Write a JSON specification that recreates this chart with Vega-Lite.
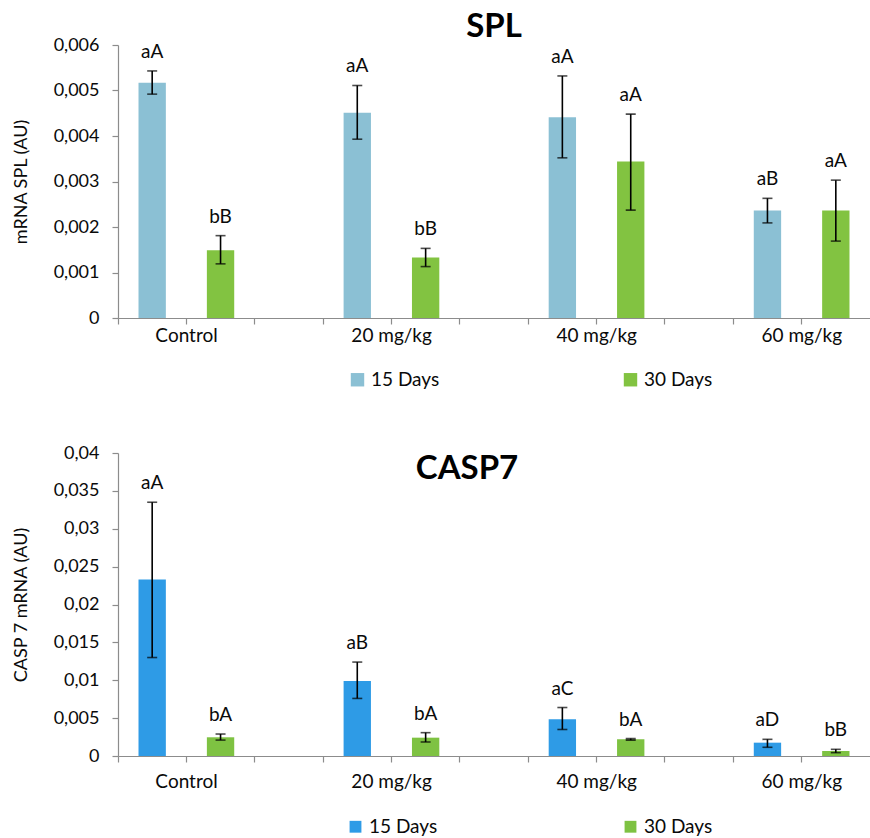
{
  "$schema": "https://vega.github.io/schema/vega-lite/v6.json",
  "background": "white",
  "padding": {"left": 12, "top": 11, "right": 0, "bottom": 0},
  "config": {
    "font": "Lato",
    "view": {"stroke": null},
    "axis": {"grid": false, "domainColor": "#8c8c8c", "tickColor": "#8c8c8c", "labelColor": "#0a0a0a", "titleColor": "#0a0a0a", "labelFont": "Lato", "titleFont": "Lato", "titleFontWeight": "normal", "titleFontSize": 18, "labelFontSize": 18, "tickSize": 6, "domainWidth": 1.2, "tickWidth": 1.2},
    "legend": {"labelFont": "Lato", "labelFontSize": 19, "labelColor": "#0a0a0a"},
    "concat": {"spacing": 54}
  },
  "datasets": {
    "spl": [
      {"dose": "Control", "days": "15 Days", "group": "Control|15", "mean": 0.00517, "lo": 0.00492, "hi": 0.00543, "label": "aA"},
      {"dose": "Control", "days": "30 Days", "group": "Control|30", "mean": 0.00149, "lo": 0.00119, "hi": 0.00181, "label": "bB"},
      {"dose": "20 mg/kg", "days": "15 Days", "group": "20 mg/kg|15", "mean": 0.00451, "lo": 0.00393, "hi": 0.00511, "label": "aA"},
      {"dose": "20 mg/kg", "days": "30 Days", "group": "20 mg/kg|30", "mean": 0.00133, "lo": 0.00113, "hi": 0.00153, "label": "bB"},
      {"dose": "40 mg/kg", "days": "15 Days", "group": "40 mg/kg|15", "mean": 0.00441, "lo": 0.00352, "hi": 0.00532, "label": "aA"},
      {"dose": "40 mg/kg", "days": "30 Days", "group": "40 mg/kg|30", "mean": 0.00344, "lo": 0.00237, "hi": 0.00448, "label": "aA"},
      {"dose": "60 mg/kg", "days": "15 Days", "group": "60 mg/kg|15", "mean": 0.00236, "lo": 0.00209, "hi": 0.00263, "label": "aB"},
      {"dose": "60 mg/kg", "days": "30 Days", "group": "60 mg/kg|30", "mean": 0.00236, "lo": 0.00169, "hi": 0.00303, "label": "aA"}
    ],
    "casp": [
      {"dose": "Control", "days": "15 Days", "group": "Control|15", "mean": 0.0233, "lo": 0.0130, "hi": 0.0335, "label": "aA"},
      {"dose": "Control", "days": "30 Days", "group": "Control|30", "mean": 0.00247, "lo": 0.0021, "hi": 0.0029, "label": "bA"},
      {"dose": "20 mg/kg", "days": "15 Days", "group": "20 mg/kg|15", "mean": 0.0099, "lo": 0.0076, "hi": 0.0124, "label": "aB"},
      {"dose": "20 mg/kg", "days": "30 Days", "group": "20 mg/kg|30", "mean": 0.00242, "lo": 0.00185, "hi": 0.00308, "label": "bA"},
      {"dose": "40 mg/kg", "days": "15 Days", "group": "40 mg/kg|15", "mean": 0.00484, "lo": 0.0035, "hi": 0.0064, "label": "aC"},
      {"dose": "40 mg/kg", "days": "30 Days", "group": "40 mg/kg|30", "mean": 0.0022, "lo": 0.0021, "hi": 0.0023, "label": "bA"},
      {"dose": "60 mg/kg", "days": "15 Days", "group": "60 mg/kg|15", "mean": 0.00176, "lo": 0.00115, "hi": 0.0022, "label": "aD"},
      {"dose": "60 mg/kg", "days": "30 Days", "group": "60 mg/kg|30", "mean": 0.00066, "lo": 0.00044, "hi": 0.00088, "label": "bB"}
    ]
  },
  "vconcat": [
    {
      "width": 752,
      "height": 273,
      "data": {"name": "spl"},
      "title": {"text": "SPL", "font": "Lato", "fontSize": 33, "fontWeight": "bold", "color": "#000", "anchor": "middle", "offset": -8},
      "encoding": {
        "x": {
          "field": "group", "type": "nominal", "sort": null,
          "scale": {"domain": ["Control|15", "Control|30", "Control|-", "20 mg/kg|15", "20 mg/kg|30", "20 mg/kg|-", "40 mg/kg|15", "40 mg/kg|30", "40 mg/kg|-", "60 mg/kg|15", "60 mg/kg|30"], "paddingInner": 0, "paddingOuter": 0},
          "axis": {"title": null, "bandPosition": 0, "labelAngle": 0, "labelFontSize": 19, "labelPadding": 2, "labelOffset": -34, "labelOverlap": false, "labelExpr": "indexof(datum.value, '|30') > 0 ? replace(datum.value, '|30', '') : ''"}
        }
      },
      "layer": [
        {
          "mark": {"type": "bar", "width": {"band": 0.4}},
          "encoding": {
            "y": {"field": "mean", "type": "quantitative", "title": "mRNA SPL (AU)", "scale": {"domain": [0, 0.006], "nice": false},
              "axis": {"values": [0, 0.001, 0.002, 0.003, 0.004, 0.005, 0.006], "labelPadding": 13, "titlePadding": 23, "labelExpr": "datum.value == 0 ? '0' : replace(format(datum.value, '~g'), '.', ',')"}},
            "color": {"field": "days", "type": "nominal", "scale": {"domain": ["15 Days", "30 Days"], "range": ["#8bc0d4", "#82c341"]},
              "legend": {"title": null, "orient": "none", "legendX": 230, "legendY": 325, "direction": "horizontal", "symbolType": "square", "symbolSize": 180, "symbolStrokeWidth": 0, "columnPadding": 181, "labelOffset": 4}}
          }
        },
        {
          "mark": {"type": "rule", "color": "#000", "strokeWidth": 1.6},
          "encoding": {"y": {"field": "lo", "type": "quantitative", "title": "mRNA SPL (AU)",
              "axis": {"values": [0, 0.001, 0.002, 0.003, 0.004, 0.005, 0.006], "labelPadding": 13, "titlePadding": 23, "labelExpr": "datum.value == 0 ? '0' : replace(format(datum.value, '~g'), '.', ',')"}}, "y2": {"field": "hi"}}
        },
        {
          "mark": {"type": "tick", "orient": "horizontal", "color": "#000", "thickness": 1.6, "size": 10},
          "encoding": {"y": {"field": "lo", "type": "quantitative", "title": "mRNA SPL (AU)",
              "axis": {"values": [0, 0.001, 0.002, 0.003, 0.004, 0.005, 0.006], "labelPadding": 13, "titlePadding": 23, "labelExpr": "datum.value == 0 ? '0' : replace(format(datum.value, '~g'), '.', ',')"}}}
        },
        {
          "mark": {"type": "tick", "orient": "horizontal", "color": "#000", "thickness": 1.6, "size": 10},
          "encoding": {"y": {"field": "hi", "type": "quantitative", "title": "mRNA SPL (AU)",
              "axis": {"values": [0, 0.001, 0.002, 0.003, 0.004, 0.005, 0.006], "labelPadding": 13, "titlePadding": 23, "labelExpr": "datum.value == 0 ? '0' : replace(format(datum.value, '~g'), '.', ',')"}}}
        },
        {
          "mark": {"type": "text", "baseline": "bottom", "dy": -9, "fontSize": 19, "color": "#0a0a0a"},
          "encoding": {"y": {"field": "hi", "type": "quantitative", "title": "mRNA SPL (AU)",
              "axis": {"values": [0, 0.001, 0.002, 0.003, 0.004, 0.005, 0.006], "labelPadding": 13, "titlePadding": 23, "labelExpr": "datum.value == 0 ? '0' : replace(format(datum.value, '~g'), '.', ',')"}}, "text": {"field": "label"}}
        }
      ]
    },
    {
      "width": 752,
      "height": 303,
      "data": {"name": "casp"},
      "title": {"text": "CASP7", "font": "Lato", "fontSize": 33, "fontWeight": "bold", "color": "#000", "anchor": "middle", "offset": -42, "dx": -27},
      "encoding": {
        "x": {
          "field": "group", "type": "nominal", "sort": null,
          "scale": {"domain": ["Control|15", "Control|30", "Control|-", "20 mg/kg|15", "20 mg/kg|30", "20 mg/kg|-", "40 mg/kg|15", "40 mg/kg|30", "40 mg/kg|-", "60 mg/kg|15", "60 mg/kg|30"], "paddingInner": 0, "paddingOuter": 0},
          "axis": {"title": null, "bandPosition": 0, "labelAngle": 0, "labelFontSize": 19, "labelPadding": 10, "labelOffset": -34, "labelOverlap": false, "labelExpr": "indexof(datum.value, '|30') > 0 ? replace(datum.value, '|30', '') : ''"}
        }
      },
      "layer": [
        {
          "mark": {"type": "bar", "width": {"band": 0.4}},
          "encoding": {
            "y": {"field": "mean", "type": "quantitative", "title": "CASP 7 mRNA (AU)", "scale": {"domain": [0, 0.04], "nice": false},
              "axis": {"values": [0, 0.005, 0.01, 0.015, 0.02, 0.025, 0.03, 0.035, 0.04], "labelPadding": 13, "titlePadding": 23, "labelOverlap": false, "labelExpr": "datum.value == 0 ? '0' : replace(format(datum.value, '~g'), '.', ',')"}},
            "color": {"field": "days", "type": "nominal", "scale": {"domain": ["15 Days", "30 Days"], "range": ["#2e9be6", "#7ec242"]},
              "legend": {"title": null, "orient": "none", "legendX": 228, "legendY": 364, "direction": "horizontal", "symbolType": "square", "symbolSize": 140, "symbolStrokeWidth": 0, "columnPadding": 183, "labelOffset": 4}}
          }
        },
        {
          "mark": {"type": "rule", "color": "#000", "strokeWidth": 1.6},
          "encoding": {"y": {"field": "lo", "type": "quantitative", "title": "CASP 7 mRNA (AU)",
              "axis": {"values": [0, 0.005, 0.01, 0.015, 0.02, 0.025, 0.03, 0.035, 0.04], "labelPadding": 13, "titlePadding": 23, "labelOverlap": false, "labelExpr": "datum.value == 0 ? '0' : replace(format(datum.value, '~g'), '.', ',')"}}, "y2": {"field": "hi"}}
        },
        {
          "mark": {"type": "tick", "orient": "horizontal", "color": "#000", "thickness": 1.6, "size": 10},
          "encoding": {"y": {"field": "lo", "type": "quantitative", "title": "CASP 7 mRNA (AU)",
              "axis": {"values": [0, 0.005, 0.01, 0.015, 0.02, 0.025, 0.03, 0.035, 0.04], "labelPadding": 13, "titlePadding": 23, "labelOverlap": false, "labelExpr": "datum.value == 0 ? '0' : replace(format(datum.value, '~g'), '.', ',')"}}}
        },
        {
          "mark": {"type": "tick", "orient": "horizontal", "color": "#000", "thickness": 1.6, "size": 10},
          "encoding": {"y": {"field": "hi", "type": "quantitative", "title": "CASP 7 mRNA (AU)",
              "axis": {"values": [0, 0.005, 0.01, 0.015, 0.02, 0.025, 0.03, 0.035, 0.04], "labelPadding": 13, "titlePadding": 23, "labelOverlap": false, "labelExpr": "datum.value == 0 ? '0' : replace(format(datum.value, '~g'), '.', ',')"}}}
        },
        {
          "mark": {"type": "text", "baseline": "bottom", "dy": -9, "fontSize": 19, "color": "#0a0a0a"},
          "encoding": {"y": {"field": "hi", "type": "quantitative", "title": "CASP 7 mRNA (AU)",
              "axis": {"values": [0, 0.005, 0.01, 0.015, 0.02, 0.025, 0.03, 0.035, 0.04], "labelPadding": 13, "titlePadding": 23, "labelOverlap": false, "labelExpr": "datum.value == 0 ? '0' : replace(format(datum.value, '~g'), '.', ',')"}}, "text": {"field": "label"}}
        }
      ]
    }
  ],
  "resolve": {"scale": {"x": "independent", "y": "independent", "color": "independent"}, "legend": {"color": "independent"}}
}
